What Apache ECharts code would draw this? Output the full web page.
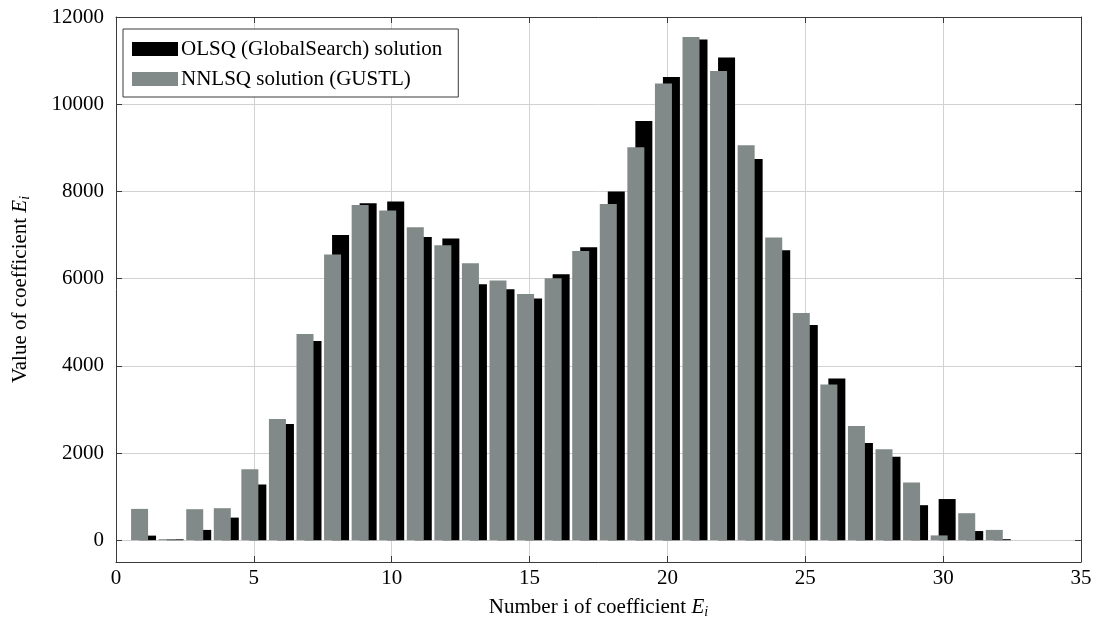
<!DOCTYPE html>
<html>
<head>
<meta charset="utf-8">
<script src="https://cdn.jsdelivr.net/npm/echarts@6/dist/echarts.min.js"></script>
<style>
	html, body { margin: 0; padding: 0; background: #fff; }
	#main { width: 1098px; height: 624px; }
</style>
</head>
<body>
<div id="main"></div>
<script>
// 系数编号
var idx = [1, 2, 3, 4, 5, 6, 7, 8, 9, 10, 11, 12, 13, 14, 15, 16,
	17, 18, 19, 20, 21, 22, 23, 24, 25, 26, 27, 28, 29, 30, 31, 32];
// OLSQ (GlobalSearch)
var olsq = [105, 20, 236, 518, 1275, 2667, 4571, 7002, 7729, 7766, 6956, 6918, 5871, 5757, 5541, 6101,
	6720, 7995, 9617, 10626, 11482, 11069, 8745, 6651, 4938, 3711, 2230, 1915, 803, 944, 210, 23];
// NNLSQ (GUSTL)
var nnlsq = [718, 23, 711, 734, 1628, 2782, 4731, 6550, 7690, 7560, 7179, 6766, 6353, 5954, 5649, 6009,
	6635, 7713, 9014, 10472, 11544, 10764, 9060, 6941, 5213, 3569, 2622, 2087, 1322, 110, 619, 236];
var xTicks = [0, 5, 10, 15, 20, 25, 30, 35];
var yTicks = [0, 2000, 4000, 6000, 8000, 10000, 12000];

var nameOlsq = 'OLSQ (GlobalSearch) solution';
var nameNnlsq = 'NNLSQ solution (GUSTL)';

function pairs(vals) {
	return idx.map(function(i, k) { return [i, vals[k]]; });
}

var font = 'Liberation Serif';
var frame = '#3a3a3a';
var grey = '#818a88';

var chart = echarts.init(document.getElementById('main'));

var option = {
	animation: false,
	backgroundColor: '#fff',
	textStyle: { fontFamily: font },
	grid: { left: 113, right: 17, top: 17, bottom: 62 },
	legend: {
		orient: 'vertical',
		left: 123,
		top: 29,
		data: [nameOlsq, nameNnlsq],
		icon: 'rect',
		itemWidth: 46,
		itemHeight: 14,
		itemGap: 8,
		padding: [9, 16, 7, 9],
		borderColor: frame,
		borderWidth: 1,
		backgroundColor: '#fff',
		textStyle: { fontFamily: font, fontSize: 21, color: '#000', lineHeight: 22, padding: [0, 0, 0, -2] }
	},
	xAxis: [{
		type: 'value',
		min: xTicks[0],
		max: xTicks[xTicks.length - 1],
		interval: 5,
		name: 'Number i of coefficient {e|E}{s|i}',
		nameLocation: 'middle',
		nameGap: 33,
		nameTextStyle: {
			fontFamily: font, fontSize: 21, color: '#000', lineHeight: 24,
			rich: {
				e: { fontFamily: font, fontSize: 21, fontStyle: 'italic', color: '#000', lineHeight: 24 },
				s: { fontFamily: font, fontSize: 14, fontStyle: 'italic', color: '#000', verticalAlign: 'bottom', lineHeight: 24 }
			}
		},
		axisLine: { onZero: false, lineStyle: { color: frame, width: 1 } },
		axisTick: { inside: true, length: 6, lineStyle: { color: frame } },
		axisLabel: { fontFamily: font, fontSize: 21, color: '#000', margin: 6 },
		splitLine: { lineStyle: { color: '#d2d2d2', width: 1 } }
	}, {
		type: 'value',
		position: 'top',
		min: xTicks[0],
		max: xTicks[xTicks.length - 1],
		interval: 5,
		axisLine: { onZero: false, lineStyle: { color: frame, width: 1 } },
		axisTick: { inside: true, length: 6, lineStyle: { color: frame } },
		axisLabel: { show: false },
		splitLine: { show: false }
	}],
	yAxis: [{
		type: 'value',
		min: -500,
		max: yTicks[yTicks.length - 1],
		splitNumber: 6,
		name: 'Value of coefficient {e|E}{s|i}',
		nameLocation: 'middle',
		nameGap: 84,
		nameTextStyle: {
			fontFamily: font, fontSize: 21, color: '#000', lineHeight: 24,
			rich: {
				e: { fontFamily: font, fontSize: 21, fontStyle: 'italic', color: '#000', lineHeight: 24 },
				s: { fontFamily: font, fontSize: 14, fontStyle: 'italic', color: '#000', verticalAlign: 'bottom', lineHeight: 24 }
			}
		},
		axisLine: { show: true, onZero: false, lineStyle: { color: frame, width: 1 } },
		axisTick: { show: true, inside: true, length: 6, lineStyle: { color: frame } },
		axisLabel: {
			fontFamily: font, fontSize: 21, color: '#000', margin: 12,
			formatter: function(v) { return yTicks.indexOf(v) >= 0 ? String(v) : ''; }
		},
		splitLine: { lineStyle: { color: '#d2d2d2', width: 1 } }
	}, {
		type: 'value',
		position: 'right',
		min: -500,
		max: yTicks[yTicks.length - 1],
		splitNumber: 6,
		axisLine: { show: true, onZero: false, lineStyle: { color: frame, width: 1 } },
		axisTick: { show: true, inside: true, length: 6, lineStyle: { color: frame } },
		axisLabel: { show: false },
		splitLine: { show: false }
	}],
	series: [
		{
			name: nameNnlsq,
			type: 'bar',
			xAxisIndex: 0,
			yAxisIndex: 0,
			barWidth: 17,
			barGap: '-53%',
			z: 3,
			itemStyle: { color: grey },
			data: pairs(nnlsq)
		},
		{
			name: nameOlsq,
			type: 'bar',
			xAxisIndex: 0,
			yAxisIndex: 0,
			barWidth: 17,
			barGap: '-53%',
			z: 2,
			itemStyle: { color: '#000' },
			data: pairs(olsq)
		}
	]
};

chart.setOption(option);
</script>
</body>
</html>
